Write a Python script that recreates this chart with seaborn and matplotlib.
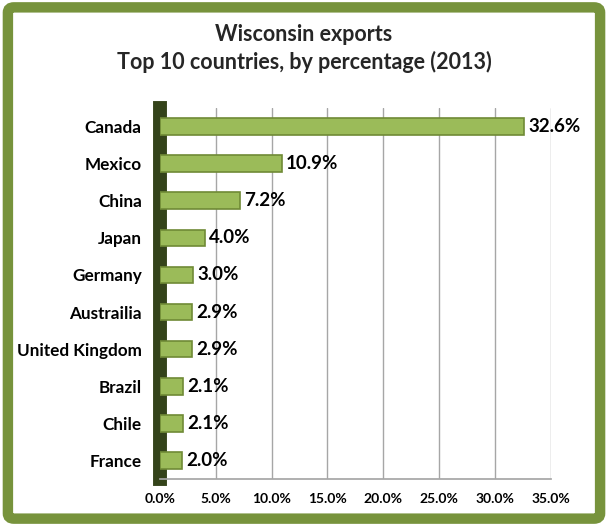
import matplotlib
matplotlib.use("Agg")
import matplotlib.pyplot as plt
import seaborn as sns
import pandas as pd
from matplotlib.patches import FancyBboxPatch
from matplotlib.ticker import FuncFormatter

countries = ["Canada", "Mexico", "China", "Japan", "Germany", "Austrailia",
             "United Kingdom", "Brazil", "Chile", "France"]
shares = [32.6, 10.9, 7.2, 4.0, 3.0, 2.9, 2.9, 2.1, 2.1, 2.0]
xticks = [0, 5, 10, 15, 20, 25, 30, 35]

df = pd.DataFrame({"country": countries, "share": shares})

sns.set_theme(style="white")
plt.rcParams['font.family'] = ['Lato', 'DejaVu Sans']

fig = plt.figure(figsize=(6.08, 5.26), dpi=100)
fig.patch.set_facecolor("white")
frame = FancyBboxPatch((0.013, 0.014), 0.974, 0.972, boxstyle="round,pad=0,rounding_size=0.01",
                       transform=fig.transFigure, facecolor="white", edgecolor="#77933c",
                       linewidth=7.5, zorder=-5)
fig.patches.append(frame)

ax = fig.add_axes([0.263, 1 - 479 / 526, 0.643, (479 - 108) / 526])
ax.set_zorder(2)
ax.patch.set_alpha(0)
sns.barplot(data=df, x="share", y="country", orient="h", ax=ax,
            color="#9bbb59", edgecolor="#6f8a36", linewidth=1.2, width=0.45, saturation=1, zorder=3)

ax.set_xlim(0, 35)
ax.set_xticks(xticks)
ax.xaxis.set_major_formatter(FuncFormatter(lambda v, p: f"{v:.1f}%"))
ax.grid(axis="x", color="#a6a6a6", linewidth=1, zorder=0)
ax.set_axisbelow(True)
ax.set_xlabel("")
ax.set_ylabel("")
for s in ["top", "right"]:
    ax.spines[s].set_visible(False)
ax.spines["bottom"].set_color("#a6a6a6")
ax.spines["left"].set_color("#34431a")
ax.spines["left"].set_linewidth(10)
ax.tick_params(axis="x", labelsize=10, pad=10, length=0)
ax.tick_params(axis="y", labelsize=12.3, pad=13, length=0)
for lab in ax.get_xticklabels() + ax.get_yticklabels():
    lab.set_fontweight("bold")
    lab.set_color("black")

ax.bar_label(ax.containers[0], labels=[f"{v:.1f}%" for v in shares], padding=3,
             fontsize=13.5, fontweight="bold", color="black")

fig.text(0.5, 0.935, "Wisconsin exports", ha="center", va="center", fontsize=15.5, fontweight="bold")
fig.text(0.5, 0.883, "Top 10 countries, by percentage (2013)", ha="center", va="center",
         fontsize=15.5, fontweight="bold")

fig.savefig("out.png", dpi=100)
